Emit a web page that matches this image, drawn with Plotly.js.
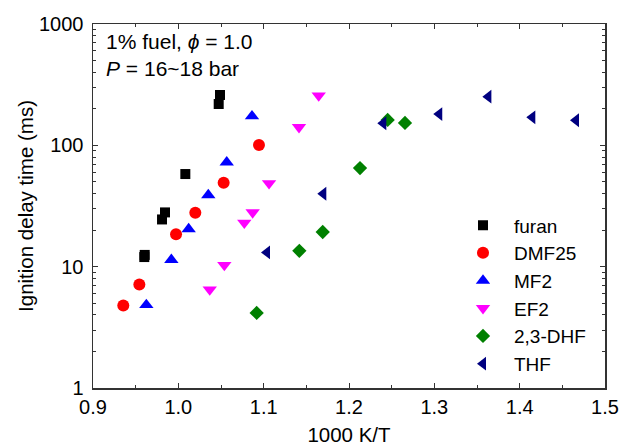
<!DOCTYPE html>
<html>
<head>
<meta charset="utf-8">
<script src="https://cdn.plot.ly/plotly-3.0.1.min.js"></script>
<style>html,body{margin:0;padding:0;background:#fff;}#chart{width:622px;height:446px;}</style>
</head>
<body>
<div id="chart"></div>
<script>
// furan
var furanX = [1.0488, 1.0473, 1.0082, 0.9844, 0.9809, 0.9606, 0.9601];
var furanY = [260, 219, 58, 28.0, 24.5, 12.5, 12.0];
// DMF25
var dmfX = [1.0945, 1.0531, 1.0199, 0.9973, 0.9543, 0.9355];
var dmfY = [100.5, 49.1, 27.8, 18.5, 7.13, 4.78];
// MF2
var mf2X = [1.0863, 1.0567, 1.0351, 1.0121, 0.9918, 0.9625];
var mf2Y = [174, 72.4, 38.9, 20.4, 11.4, 4.84];
// EF2
var ef2X = [1.1645, 1.1414, 1.1063, 1.0871, 1.0773, 1.0539, 1.0368];
var ef2Y = [257, 141, 48.6, 28, 23, 10.3, 6.48];
// 2,3-DHF
var dhfX = [1.2453, 1.2656, 1.2129, 1.1692, 1.1418, 1.0918];
var dhfY = [162, 153, 65, 19.3, 13.5, 4.16];
// THF
var thfX = [1.3633, 1.3058, 1.4148, 1.466, 1.2402, 1.1699, 1.1039];
var thfY = [252, 181, 170, 161, 152, 39.9, 13.1];

var names = ['furan', 'DMF25', 'MF2', 'EF2', '2,3-DHF', 'THF'];
var xTickVals = [0.9, 1.0, 1.1, 1.2, 1.3, 1.4, 1.5];
var xTickText = ['0.9', '1.0', '1.1', '1.2', '1.3', '1.4', '1.5'];
var yTickVals = [1, 10, 100, 1000];
var yTickText = ['1', '10', '100', '1000'];

var styles = [
  {symbol: 'square', color: '#000000', size: 10},
  {symbol: 'circle', color: '#FF0000', size: 12},
  {symbol: 'triangle-up', color: '#0000FF', size: 12.5},
  {symbol: 'triangle-down', color: '#FF00FF', size: 12.5},
  {symbol: 'diamond', color: '#008000', size: 11},
  {symbol: 'triangle-left', color: '#000080', size: 12}
];
var xs = [furanX, dmfX, mf2X, ef2X, dhfX, thfX];
var ys = [furanY, dmfY, mf2Y, ef2Y, dhfY, thfY];

var traces = names.map(function(n, i) {
  return {
    type: 'scatter', mode: 'markers', name: n, x: xs[i], y: ys[i],
    marker: {symbol: styles[i].symbol, color: styles[i].color, size: styles[i].size, line: {width: 0}},
    cliponaxis: false
  };
});

var FAM = 'Liberation Sans, Arial, sans-serif';
var tickFont = {family: FAM, size: 20, color: '#000'};
var titleFont = {family: FAM, size: 20.5, color: '#000'};
var plotW = 622 - 93 - 17, plotH = 446 - 24 - 58;
var layout = {
  width: 622, height: 446,
  margin: {l: 93, r: 17, t: 24, b: 58, pad: 0},
  paper_bgcolor: '#fff', plot_bgcolor: '#fff',
  font: tickFont,
  showlegend: true,
  legend: {
    x: (480 - 93 - 26 - 2) / plotW, y: (387.7 - 206) / plotH,
    xanchor: 'left', yanchor: 'top', xref: 'paper', yref: 'paper',
    font: {family: FAM, size: 19, color: '#000'},
    itemwidth: 52,
    bgcolor: 'rgba(0,0,0,0)', borderwidth: 0
  },
  xaxis: {
    range: [0.9, 1.5], tickmode: 'array', tickvals: xTickVals, ticktext: xTickText,
    ticks: 'inside', ticklen: 5, tickwidth: 1, tickcolor: '#333',
    minor: {ticks: 'inside', ticklen: 3, dtick: 0.05, tickcolor: '#333', showgrid: false},
    showline: true, linecolor: '#333', linewidth: 1.5, mirror: 'allticks',
    showgrid: false, zeroline: false,
    tickfont: tickFont,
    title: {text: '1000 K/T', font: titleFont, standoff: 13}
  },
  yaxis: {
    type: 'log', range: [0, 3], tickmode: 'array', tickvals: yTickVals, ticktext: yTickText,
    ticks: 'inside', ticklen: 5, tickwidth: 1, tickcolor: '#333',
    minor: {ticks: 'inside', ticklen: 3, dtick: 'D1', tickcolor: '#333', showgrid: false},
    showline: true, linecolor: '#333', linewidth: 1.5, mirror: 'allticks',
    showgrid: false, zeroline: false,
    tickfont: tickFont, ticklabelstandoff: 4,
    title: {text: 'Ignition delay time (ms)', font: titleFont, standoff: 0}
  },
  annotations: [
    {xref: 'paper', yref: 'paper', x: 0.022, y: 0.99, xanchor: 'left', yanchor: 'top',
     showarrow: false, align: 'left',
     font: {family: FAM, size: 21, color: '#000'},
     text: '1% fuel, <i>ϕ</i> = 1.0<br><i>P</i> = 16~18 bar'}
  ]
};

Plotly.newPlot('chart', traces, layout, {displayModeBar: false, staticPlot: true});
</script>
</body>
</html>
